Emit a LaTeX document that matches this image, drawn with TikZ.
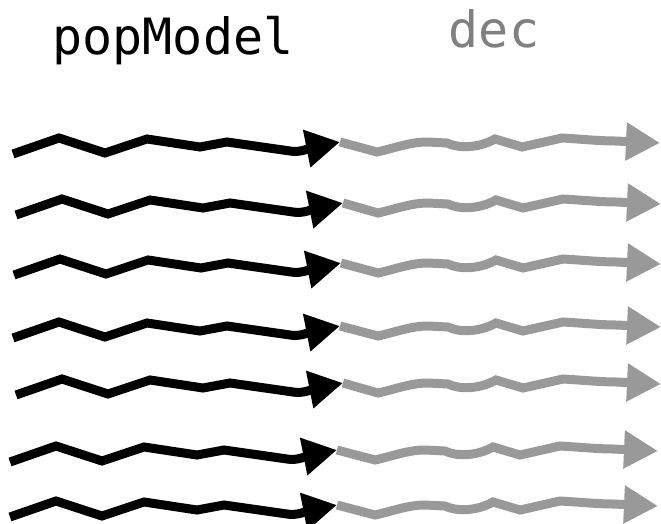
\documentclass[tikz,border=0pt]{standalone}
\usepackage{fontspec}
\newfontfamily\dmono{DejaVu Sans Mono}
\usetikzlibrary{arrows.meta}
\definecolor{lgray}{gray}{0.6}
\definecolor{tgray}{gray}{0.5}
\begin{document}
\begin{tikzpicture}[x=1pt,y=-1pt,
  wave/.style={line width=9pt, line join=miter, line cap=butt, -{Triangle[length=34pt,width=36pt]}},
  bwave/.style={wave, draw=black},
  gwave/.style={wave, draw=lgray},
  lbl/.style={font=\dmono\fontsize{50}{60}\selectfont, inner sep=0pt, anchor=base}]
\useasboundingbox (0,0) rectangle (661,524);
\node[lbl] (pm) at (173,55) {popModel};
\node[lbl, text=tgray] (dc) at (494,48) {dec};
\foreach \i/\bx/\gx/\dy in {1/0/0/0, 2/3/1/61, 3/1/1/121, 4/0/1/184, 5/3/1/241, 6/-3/-2/308, 7/-3/-2/363}{
  \begin{scope}[shift={(\bx,\dy)}]
    \coordinate (s\i) at (13,154);
    \coordinate (m\i) at (340,142);
  \end{scope}
  \begin{scope}[shift={(\gx,\dy)}]
    \coordinate (e\i) at (660,143);
    \draw[gwave] (m\i) -- (377,152) .. controls (395,148) and (410,142) .. (427,142) -- (447,143) .. controls (457,148) and (477,149) .. (495,139) -- (522,147) -- (562,138) .. controls (580,139) and (600,141) .. (615,141) -- (e\i);
  \end{scope}
  \begin{scope}[shift={(\bx,\dy)}]
    \draw[bwave] (s\i) -- (59,138) -- (105,153) -- (147,139) -- (200,147) -- (227,142) -- (290,151) .. controls (300,153) and (312,147.5) .. (m\i);
  \end{scope}
}
\end{tikzpicture}
\end{document}
